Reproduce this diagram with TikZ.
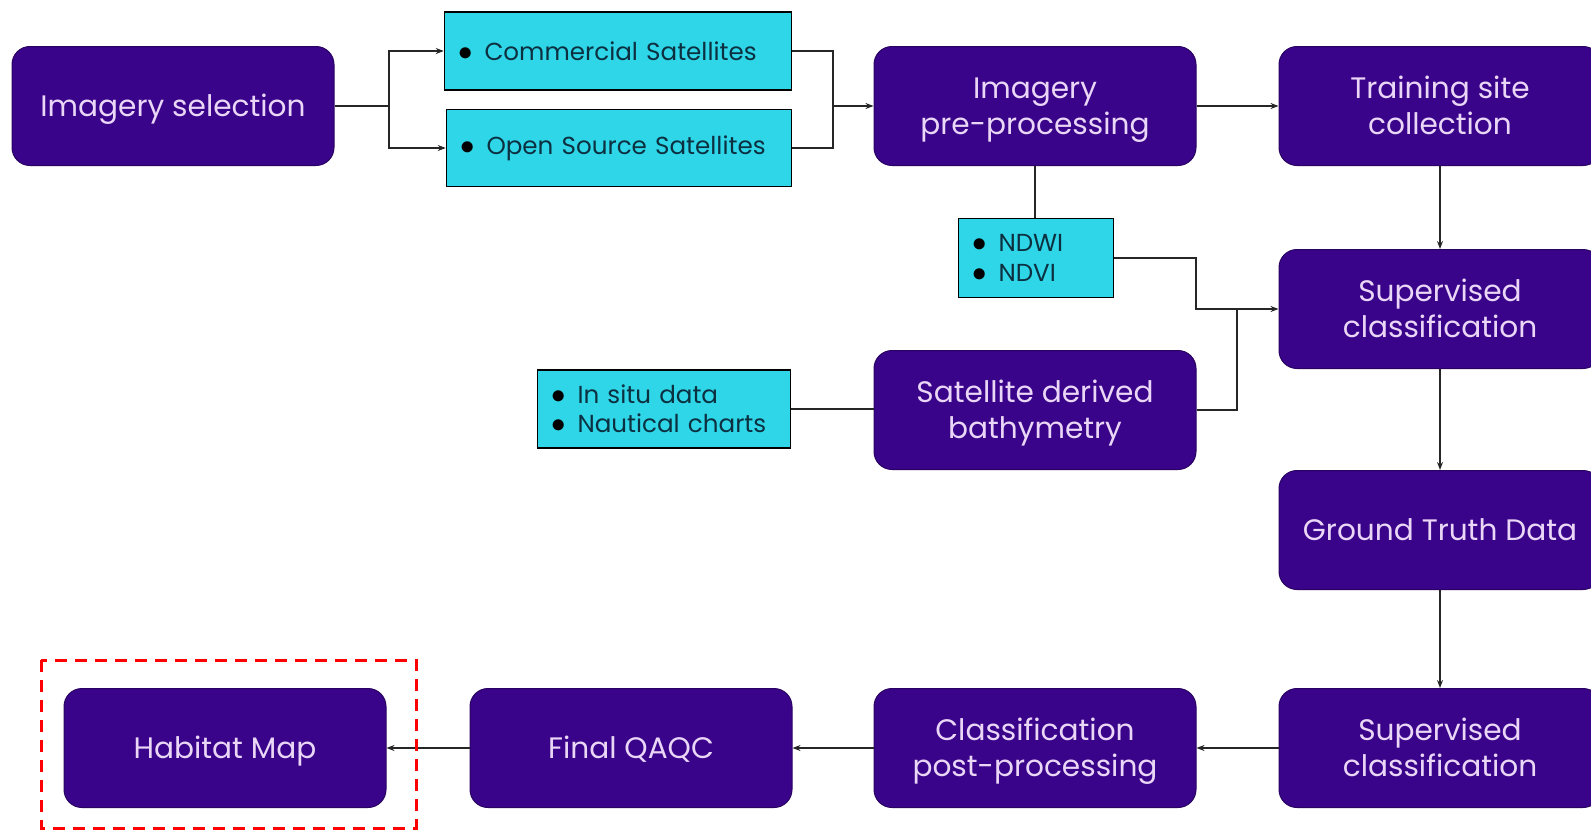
\documentclass[tikz,border=0pt]{standalone}
\usepackage{fontspec}
\setmainfont{Poppins}
\usetikzlibrary{arrows.meta}
\definecolor{boxpurple}{RGB}{58,4,138}
\definecolor{boxcyan}{RGB}{46,214,232}
\definecolor{lavender}{RGB}{234,214,246}
\definecolor{navytext}{RGB}{12,48,64}
% centred label lines with equal struts, dropped a little
\newcommand\lbl[1]{\raisebox{-1.8pt}[\height][\depth]{\begin{tabular}{@{}c@{}}#1\end{tabular}}}
% bullet for the cyan lists
\newcommand\itm{\makebox[13pt][l]{\textcolor{black}{\scalebox{1.2}{$\bullet$}}}}
\tikzset{
  proc/.style={draw=boxpurple!70!black, line width=0.5pt, fill=boxpurple, rounded corners=9pt,
    minimum width=161pt, minimum height=59.5pt, text=lavender,
    font=\fontsize{14.8}{17.8}\selectfont},
  src/.style={draw=black, line width=0.75pt, fill=boxcyan, align=left, text=navytext,
    inner sep=0pt, font=\fontsize{12.3}{14.6}\selectfont},
  link/.style={line width=0.65pt, draw=black!85},
  arr/.style={link, -{Stealth[length=4pt,width=3pt]}}
}
\begin{document}
\begin{tikzpicture}[x=0.5pt,y=-0.5pt]
\useasboundingbox (0,0) rectangle (1591,830);
% top row
\node[proc] (sel) at (173,106) {\lbl{Imagery selection}};
\node[src, minimum width=173.5pt, minimum height=39pt, text width=159.5pt] (com) at (618,51) {\itm Commercial Satellites};
\node[src, minimum width=172.5pt, minimum height=38.5pt, text width=158.5pt] (open) at (619,148) {\itm Open Source Satellites};
\node[proc] (pre) at (1035,106) {\lbl{Imagery\\pre-processing}};
\node[proc] (train) at (1440,106) {\lbl{Training site\\collection}};
% middle
\node[src, minimum width=77.5pt, minimum height=39.5pt, text width=63.5pt] (ndwi) at (1036,258) {\itm NDWI\\\itm NDVI};
\node[proc] (sup1) at (1440,309) {\lbl{Supervised\\classification}};
\node[src, minimum width=126.5pt, minimum height=39pt, text width=112.5pt] (insitu) at (664,409) {\itm In situ data\\\itm Nautical charts};
\node[proc] (bath) at (1035,410) {\lbl{Satellite derived\\bathymetry}};
\node[proc] (truth) at (1440,530) {\lbl{Ground Truth Data}};
% bottom row
\node[proc] (sup2) at (1440,748) {\lbl{Supervised\\classification}};
\node[proc] (post) at (1035,748) {\lbl{Classification\\post-processing}};
\node[proc] (qaqc) at (631,748) {\lbl{Final QAQC}};
\node[proc] (hab) at (225,748) {\lbl{Habitat Map}};
% junctions
\coordinate (j1) at (389,106);
\coordinate (j2) at (833,106);
\coordinate (j3) at (1196,309);
\coordinate (j4) at (1237,309);
% connectors
\draw[link] (sel.east) -- (j1);
\draw[arr] (j1) |- (com.west);
\draw[arr] (j1) |- (open.west);
\draw[link] (com.east) -| (j2);
\draw[link] (open.east) -| (j2);
\draw[arr] (j2) -- (pre.west);
\draw[arr] (pre) -- (train);
\draw[link] (pre.south) -- (pre.south |- ndwi.north);
\draw[arr] (ndwi.east) -| (j3) -- (sup1.west);
\draw[link] (bath.east) -| (j4);
\draw[link] (insitu.east) -- (insitu.east -| bath.west);
\draw[arr] (train) -- (sup1);
\draw[arr] (sup1) -- (truth);
\draw[arr] (truth) -- (sup2);
\draw[arr] (sup2) -- (post);
\draw[arr] (post) -- (qaqc);
\draw[arr] (qaqc) -- (hab);
% highlight
\draw[red, line width=1.5pt, dash pattern=on 6pt off 4pt] (41,660) rectangle (416,828);
\end{tikzpicture}
\end{document}
